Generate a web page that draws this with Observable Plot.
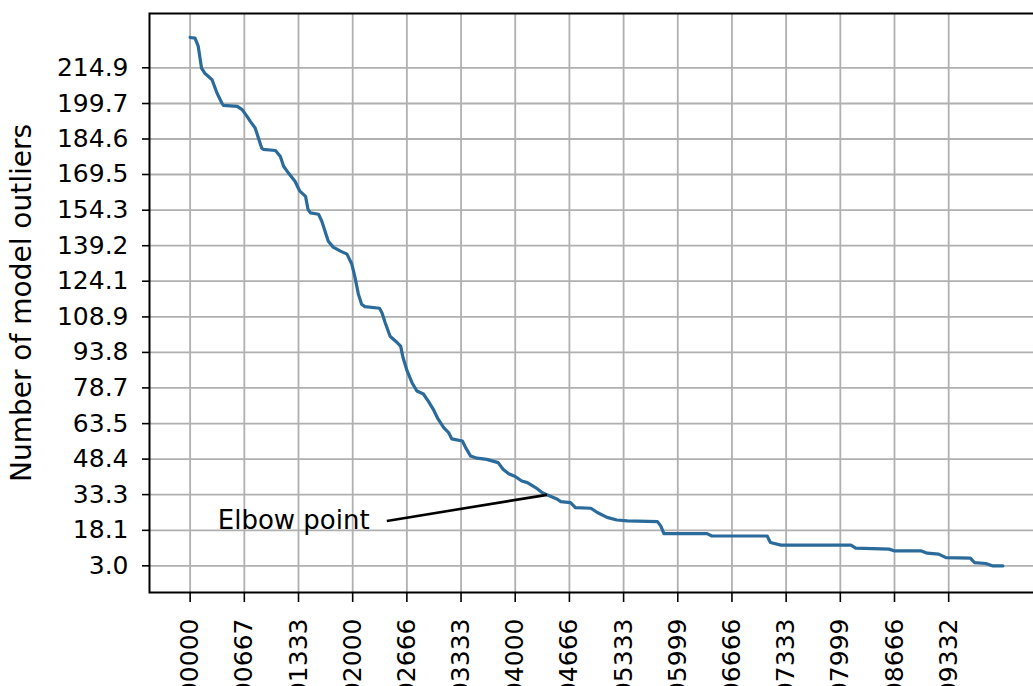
<!DOCTYPE html>
<html>
<head>
<meta charset="utf-8">
<script src="https://cdn.jsdelivr.net/npm/d3@7"></script>
<script src="https://cdn.jsdelivr.net/npm/@observablehq/plot@0.6"></script>
<style>
  html, body { margin: 0; padding: 0; background: #fff; overflow: hidden; }
  #chart { width: 1033px; height: 686px; overflow: hidden; }
  #chart svg { overflow: hidden; display: block; }
</style>
</head>
<body>
<div id="chart"></div>
<script>
// Threshold (x) vs number of model outliers (y)
const xValues = [0, 0.0006, 0.0010, 0.0014, 0.0018, 0.0027, 0.0033, 0.0039, 0.0041, 0.0058,
  0.0064, 0.0070, 0.0074, 0.0080, 0.0084, 0.0088, 0.0090, 0.0105, 0.0111, 0.0115,
  0.0121, 0.0129, 0.0135, 0.0142, 0.0145, 0.0148, 0.0158, 0.0162, 0.0166, 0.0170,
  0.0176, 0.0185, 0.0193, 0.0199, 0.0203, 0.0207, 0.0211, 0.0215, 0.0233, 0.0236,
  0.0240, 0.0246, 0.0255, 0.0259, 0.0262, 0.0267, 0.0273, 0.0279, 0.0287, 0.0293,
  0.0299, 0.0305, 0.0312, 0.0318, 0.0322, 0.0335, 0.0339, 0.0345, 0.0353, 0.0365,
  0.0379, 0.0385, 0.0392, 0.0400, 0.0408, 0.0415, 0.0425, 0.0433, 0.0439, 0.0452,
  0.0456, 0.0468, 0.0474, 0.0493, 0.0501, 0.0513, 0.0525, 0.0538, 0.0575, 0.0579,
  0.0583, 0.0636, 0.0642, 0.0710, 0.0714, 0.0727, 0.0813, 0.0819, 0.0860, 0.0866,
  0.0899, 0.0907, 0.0921, 0.0930, 0.0960, 0.0965, 0.0979, 0.0987, 0.1000];
const yValues = [227.8, 227.5, 224.0, 214.8, 212.6, 209.8, 204.2, 199.9, 198.9, 198.5,
  197.1, 194.2, 192.1, 189.3, 185.0, 180.8, 180.2, 179.7, 177.2, 173.0,
  170.1, 166.6, 162.4, 160.2, 154.7, 153.2, 152.6, 149.6, 145.4, 141.1,
  138.6, 136.9, 135.6, 131.3, 125.5, 118.6, 114.3, 113.3, 112.6, 110.7,
  106.4, 100.7, 97.9, 96.5, 91.5, 85.9, 80.9, 77.4, 76.1, 73.1,
  69.7, 65.5, 61.8, 59.7, 57.0, 56.1, 53.3, 49.7, 48.8, 48.3,
  46.9, 44.1, 42.2, 41.0, 39.1, 38.4, 36.3, 34.2, 33.2, 31.3,
  30.3, 29.9, 27.8, 27.5, 25.7, 23.6, 22.5, 22.1, 21.8, 20.0,
  16.7, 16.7, 15.7, 15.7, 12.9, 11.8, 11.8, 10.5, 10.1, 9.4,
  9.4, 8.4, 8.0, 6.5, 6.3, 4.4, 4.0, 3.0, 3.0];

const xTicks = [0, 0.1/15, 0.2/15, 0.3/15, 0.4/15, 0.5/15, 0.6/15, 0.7/15, 0.8/15,
  0.9/15, 1.0/15, 1.1/15, 1.2/15, 1.3/15, 1.4/15];
const xTickLabels = ["0.00000", "0.00667", "0.01333", "0.02000", "0.02666", "0.03333",
  "0.04000", "0.04666", "0.05333", "0.05999", "0.06666", "0.07333", "0.07999",
  "0.08666", "0.09332"];
const yTicks = [3.0, 18.1, 33.3, 48.4, 63.5, 78.7, 93.8, 108.9, 124.1, 139.2,
  154.3, 169.5, 184.6, 199.7, 214.9];
const yLabel = "Number of model outliers";

const annotationText = "Elbow point";
const annotationTextAt = [0.0034, 22.1];
const arrowFrom = [0.0242, 22.1];
const elbowAt = [0.0439, 33.2];

const rows = xValues.map((x, i) => ({x, y: yValues[i]}));
const xLabelRows = xTicks.map((x, i) => ({x, label: xTickLabels[i]}));

const chart = Plot.plot({
  width: 1033,
  height: 686,
  marginLeft: 149,
  marginRight: -10,
  marginTop: 13,
  marginBottom: 94,
  style: {fontFamily: "DejaVu Sans", fontSize: "24px", color: "#000", background: "#fff", overflow: "hidden"},
  x: {domain: [-0.005, 0.105]},
  y: {domain: [-8.35, 238.0]},
  marks: [
    Plot.gridX(xTicks, {stroke: "#b0b0b0", strokeOpacity: 1, strokeWidth: 1.8}),
    Plot.gridY(yTicks, {stroke: "#b0b0b0", strokeOpacity: 1, strokeWidth: 1.8}),
    Plot.axisY(yTicks, {
      tickSize: 7, tickPadding: 14, fontSize: 25, strokeWidth: 1.6,
      tickFormat: d => d.toFixed(1), label: null
    }),
    Plot.axisX(xTicks, {
      tickSize: 10, strokeWidth: 1.6, text: null, label: null
    }),
    Plot.text(xLabelRows, {
      x: "x", text: "label", frameAnchor: "bottom", rotate: -90,
      textAnchor: "end", lineAnchor: "middle", dy: 26, fontSize: 25, fill: "#000"
    }),
    Plot.text([yLabel], {
      text: d => d, frameAnchor: "left", dx: -127, rotate: -90,
      textAnchor: "middle", lineAnchor: "middle", fontSize: 28, fill: "#000"
    }),
    Plot.line(rows, {x: "x", y: "y", stroke: "#2a6b9b", strokeWidth: 3.2}),
    Plot.link([{x1: arrowFrom[0], y1: arrowFrom[1], x2: elbowAt[0], y2: elbowAt[1]}], {
      x1: "x1", y1: "y1", x2: "x2", y2: "y2", stroke: "#000", strokeWidth: 2.6
    }),
    Plot.text([annotationText], {
      text: d => d, x: annotationTextAt[0], y: annotationTextAt[1],
      textAnchor: "start", fontSize: 26, fill: "#000"
    }),
    Plot.frame({stroke: "#000", strokeWidth: 2})
  ]
});
document.getElementById("chart").appendChild(chart);
</script>
</body>
</html>
